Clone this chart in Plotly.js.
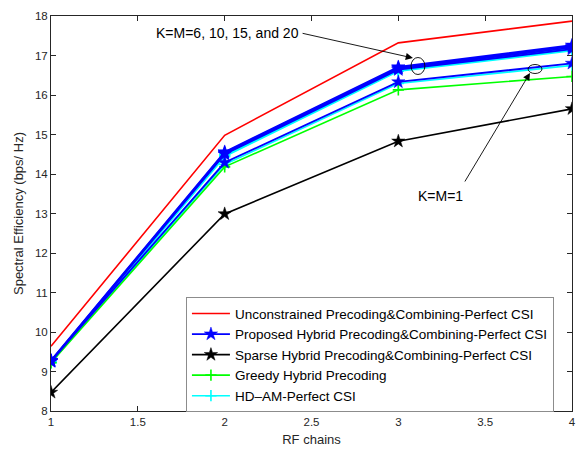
<!DOCTYPE html>
<html>
<head>
<meta charset="utf-8">
<script src="https://cdn.plot.ly/plotly-3.0.1.min.js"></script>
<style>html,body{margin:0;padding:0;background:#fff;}#chart{width:581px;height:449px;}</style>
</head>
<body>
<div id="chart"></div>
<script>
var rfChains = [1, 2, 3, 4];

var unconstrained = [9.64, 14.98, 17.32, 17.87];
var sparse = [8.47, 12.99, 14.83, 15.65];
var greedy = [9.22, 14.18, 16.13, 16.47];

var proposedK1 = [9.27, 14.29, 16.33, 16.80];
var proposedK6 = [9.25, 14.50, 16.64, 17.16];
var proposedK10 = [9.26, 14.52, 16.67, 17.20];
var proposedK15 = [9.27, 14.54, 16.69, 17.23];
var proposedK20 = [9.28, 14.56, 16.71, 17.26];

var hdamK1 = [9.24, 14.24, 16.29, 16.75];
var hdamK6 = [9.22, 14.44, 16.60, 17.12];
var hdamK10 = [9.23, 14.46, 16.62, 17.15];
var hdamK15 = [9.24, 14.48, 16.64, 17.18];
var hdamK20 = [9.25, 14.50, 16.66, 17.21];

var xTicks = [1, 1.5, 2, 2.5, 3, 3.5, 4];
var yTicks = [8, 9, 10, 11, 12, 13, 14, 15, 16, 17, 18];

var names = {
  unc: 'Unconstrained Precoding&Combining-Perfect CSI',
  prop: 'Proposed Hybrid Precoding&Combining-Perfect CSI',
  sparse: 'Sparse Hybrid Precoding&Combining-Perfect CSI',
  greedy: 'Greedy Hybrid Precoding',
  hdam: 'HD\u2013AM-Perfect CSI'
};

var FONT = 'Liberation Sans, Arial, sans-serif';
var traces = [];
traces.push({x: rfChains, y: unconstrained, name: names.unc, mode: 'lines',
  line: {color: '#ff0000', width: 1.6}, legendrank: 1});

var hdamSets = [hdamK1, hdamK6, hdamK10, hdamK15, hdamK20];
hdamSets.forEach(function (s, i) {
  traces.push({x: rfChains, y: s, name: names.hdam, mode: 'lines+markers',
    line: {color: '#00ffff', width: 1.6},
    marker: {symbol: 'cross-thin', size: 8, line: {color: '#00ffff', width: 1.6}},
    showlegend: i === 0, legendgroup: 'hdam', legendrank: 5});
});

traces.push({x: rfChains, y: greedy, name: names.greedy, mode: 'lines+markers',
  line: {color: '#00ff00', width: 1.6},
  marker: {symbol: 'cross-thin', size: 8, line: {color: '#00ff00', width: 1.6}},
  legendrank: 4});

var propSets = [proposedK1, proposedK6, proposedK10, proposedK15, proposedK20];
propSets.forEach(function (s, i) {
  traces.push({x: rfChains, y: s, name: names.prop, mode: 'lines+markers',
    line: {color: '#0000ff', width: 1.8},
    marker: {symbol: 'star', size: 10, color: '#0000ff', line: {color: '#0000ff', width: 0.5}},
    showlegend: i === 0, legendgroup: 'prop', legendrank: 2});
});

traces.push({x: rfChains, y: sparse, name: names.sparse, mode: 'lines+markers',
  line: {color: '#000000', width: 1.6},
  marker: {symbol: 'star', size: 10, color: '#000000', line: {color: '#000000', width: 0.5}},
  legendrank: 3});

var axisFont = {family: FONT, size: 11.5, color: '#262626'};

var layout = {
  width: 581, height: 449,
  margin: {l: 51, r: 9, t: 16, b: 38},
  paper_bgcolor: '#ffffff', plot_bgcolor: '#ffffff',
  font: {family: FONT, size: 11, color: '#262626'},
  xaxis: {
    range: [1, 4], tickvals: xTicks, ticktext: xTicks.map(String),
    ticks: 'inside', ticklen: 5, tickcolor: '#262626', mirror: 'ticks',
    showline: true, linecolor: '#262626', linewidth: 1, showgrid: false, zeroline: false,
    tickfont: axisFont,
    title: {text: 'RF chains', font: {family: FONT, size: 13, color: '#262626'}, standoff: 8}
  },
  yaxis: {
    range: [8, 18], tickvals: yTicks, ticktext: yTicks.map(String),
    ticks: 'inside', ticklen: 5, tickcolor: '#262626', mirror: 'ticks',
    showline: true, linecolor: '#262626', linewidth: 1, showgrid: false, zeroline: false,
    tickfont: axisFont,
    title: {text: 'Spectral Efficiency (bps/ Hz)', font: {family: FONT, size: 13, color: '#262626'}, standoff: 8}
  },
  legend: {
    x: 0.259, y: 0.288, xanchor: 'left', yanchor: 'top',
    bgcolor: '#ffffff', bordercolor: '#8c8c8c', borderwidth: 1,
    font: {family: FONT, size: 13.5, color: '#000000'},
    tracegroupgap: 0, traceorder: 'normal', itemwidth: 38
  },
  showlegend: true,
  annotations: [
    {x: 3.084, y: 16.937, ax: 2.44, ay: 17.57, axref: 'x', ayref: 'y', xref: 'x', yref: 'y',
     showarrow: true, arrowhead: 2, arrowsize: 1.6, arrowwidth: 0.9, arrowcolor: '#000000', text: ''},
    {x: 2.44, y: 17.57, xref: 'x', yref: 'y', xanchor: 'right', yanchor: 'middle', showarrow: false,
     text: 'K=M=6, 10, 15, and 20', font: {family: FONT, size: 14, color: '#000000'}},
    {x: 3.758, y: 16.557, ax: 3.378, ay: 13.772, axref: 'x', ayref: 'y', xref: 'x', yref: 'y',
     showarrow: true, arrowhead: 2, arrowsize: 1.6, arrowwidth: 0.9, arrowcolor: '#000000', text: ''},
    {x: 3.24, y: 13.443, xref: 'x', yref: 'y', xanchor: 'center', yanchor: 'middle', showarrow: false,
     text: 'K=M=1', font: {family: FONT, size: 14, color: '#000000'}}
  ],
  shapes: [
    {type: 'circle', xref: 'x', yref: 'y', x0: 3.073, x1: 3.153, y0: 16.519, y1: 16.949,
     line: {color: '#000000', width: 0.9}},
    {type: 'circle', xref: 'x', yref: 'y', x0: 3.747, x1: 3.827, y0: 16.544, y1: 16.772,
     line: {color: '#000000', width: 0.9}}
  ]
};

Plotly.newPlot('chart', traces, layout, {displayModeBar: false, staticPlot: true});
</script>
</body>
</html>
